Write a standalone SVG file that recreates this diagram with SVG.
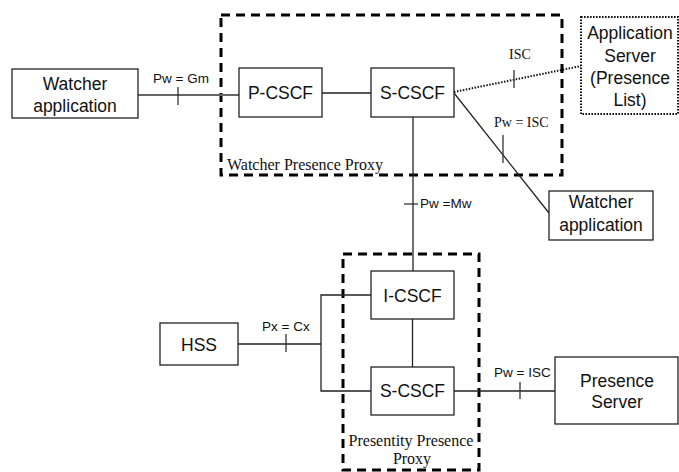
<svg xmlns="http://www.w3.org/2000/svg" width="679" height="472" viewBox="0 0 679 472">
<style>
.box{fill:#fff;stroke:#222;stroke-width:1.3}
.dotbox{fill:#fff;stroke:#111;stroke-width:2;stroke-dasharray:1.6 1.4}
.proxy{fill:none;stroke:#000;stroke-width:3;stroke-dasharray:9 6}
.t{font-family:"Liberation Sans",Arial,sans-serif;font-size:17.5px;fill:#111;text-anchor:middle}
.lbl{font-family:"Liberation Sans",Arial,sans-serif;font-size:13.5px;fill:#111}
.slbl{font-family:"Liberation Serif","Times New Roman",serif;font-size:14px;fill:#111}
.plbl{font-family:"Liberation Serif","Times New Roman",serif;font-size:16px;fill:#111}
.ln{stroke:#222;stroke-width:1.3;fill:none}
.gl{stroke:#666;stroke-width:2;fill:none}
.dl{stroke:#111;stroke-width:2;stroke-dasharray:1.5 1.5;fill:none}
.tick{stroke:#333;stroke-width:1.3}
</style>
<g id="watcher-presence-proxy">
<rect class="proxy" x="221" y="15" width="341" height="160"/>
<text class="plbl" x="227" y="170">Watcher Presence Proxy</text>
</g>
<g id="presentity-presence-proxy">
<rect class="proxy" x="343" y="254" width="136" height="216"/>
<text class="plbl" x="411" y="446" text-anchor="middle">Presentity Presence</text>
<text class="plbl" x="412" y="464" text-anchor="middle">Proxy</text>
</g>
<g id="connectors">
<line class="gl" x1="138" y1="95" x2="239" y2="95"/>
<line class="tick" x1="178" y1="87" x2="178" y2="105"/>
<text class="lbl" x="153" y="83">Pw = Gm</text>
<line class="ln" x1="322" y1="93" x2="371" y2="93"/>
<line class="dl" x1="454" y1="92" x2="581" y2="66"/>
<line class="tick" x1="514" y1="70" x2="514" y2="88"/>
<text class="slbl" x="509" y="59">ISC</text>
<line class="ln" x1="454" y1="93" x2="549" y2="213"/>
<line class="tick" x1="503" y1="135" x2="503" y2="163"/>
<text class="slbl" x="494" y="127">Pw = ISC</text>
<line class="ln" x1="413" y1="117" x2="413" y2="271"/>
<line class="tick" x1="404" y1="204" x2="418" y2="204"/>
<text class="lbl" x="420" y="208">Pw =Mw</text>
<line class="ln" x1="412.5" y1="319" x2="412.5" y2="367"/>
<line class="ln" x1="454" y1="391" x2="555" y2="391"/>
<line class="tick" x1="520" y1="382" x2="520" y2="399"/>
<text class="lbl" x="494" y="377">Pw = ISC</text>
<polyline class="ln" points="238,344 321,344"/>
<polyline class="ln" points="371,295 321,295 321,391 371,391"/>
<line class="tick" x1="286" y1="334" x2="286" y2="352"/>
<text class="lbl" x="262" y="331">Px = Cx</text>
</g>
<g id="watcher-app-1">
<rect class="box" x="12" y="69" width="126" height="49"/>
<text class="t" x="75" y="90">Watcher</text>
<text class="t" x="75" y="112">application</text>
</g>
<g id="p-cscf">
<rect class="box" x="239" y="68" width="83" height="49"/>
<text class="t" x="280.5" y="99">P-CSCF</text>
</g>
<g id="s-cscf-1">
<rect class="box" x="371" y="68" width="83" height="49"/>
<text class="t" x="412.5" y="99">S-CSCF</text>
</g>
<g id="application-server">
<rect class="dotbox" x="581" y="17" width="97" height="97"/>
<text class="t" x="630" y="39">Application</text>
<text class="t" x="630" y="61.5">Server</text>
<text class="t" x="630" y="84">(Presence</text>
<text class="t" x="630" y="106">List)</text>
</g>
<g id="watcher-app-2">
<rect class="box" x="549" y="191" width="104" height="49"/>
<text class="t" x="601" y="208">Watcher</text>
<text class="t" x="601" y="230.5">application</text>
</g>
<g id="i-cscf">
<rect class="box" x="371" y="271" width="83" height="48"/>
<text class="t" x="412.5" y="302">I-CSCF</text>
</g>
<g id="s-cscf-2">
<rect class="box" x="371" y="367" width="83" height="48"/>
<text class="t" x="412.5" y="397">S-CSCF</text>
</g>
<g id="hss">
<rect class="box" x="160" y="323" width="78" height="42"/>
<text class="t" x="199" y="351">HSS</text>
</g>
<g id="presence-server">
<rect class="box" x="555" y="357" width="123" height="67"/>
<text class="t" x="617" y="387">Presence</text>
<text class="t" x="617" y="408">Server</text>
</g>
</svg>
